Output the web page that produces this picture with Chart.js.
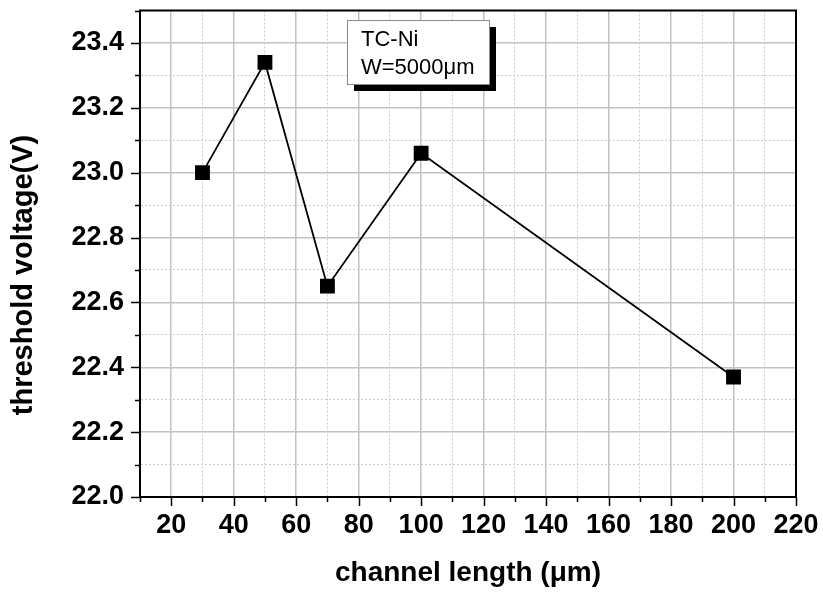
<!DOCTYPE html>
<html>
<head>
<meta charset="utf-8">
<script src="https://cdn.jsdelivr.net/npm/chart.js@4/dist/chart.umd.min.js"></script>
<style>
  html, body { margin: 0; padding: 0; background: #fff; }
  canvas { display: block; }
</style>
</head>
<body>
<canvas id="c" width="823" height="594"></canvas>
<script>
// Measured threshold voltage against channel length
const channelLength = [30, 50, 70, 100, 200];          // µm
const thresholdVoltage = [23.00, 23.34, 22.65, 23.06, 22.37]; // V

// Axis ranges and label steps
const xRange = [10, 220];
const xLabelStep = 20;
const yRange = [22.0, 23.5];
const yLabelStep = 0.2;

// Text
const xTitle = 'channel length (\u03bcm)';
const yTitle = 'threshold voltage(V)';
const noteLines = ['TC-Ni', 'W=5000\u03bcm'];

const FONT = '"Liberation Sans", Arial, Helvetica, sans-serif';

const isMajorX = v => Math.abs(v / xLabelStep - Math.round(v / xLabelStep)) < 1e-6;
const isMajorY = v => {
  const k = (v - yRange[0]) / yLabelStep;
  return Math.abs(k - Math.round(k)) < 1e-6;
};

const points = channelLength.map((x, i) => ({ x, y: thresholdVoltage[i] }));

// Frame, tick marks, note box and axis titles
const decor = {
  id: 'decor',
  afterDraw(chart) {
    const { ctx, chartArea: a, scales: { x, y } } = chart;
    ctx.save();
    ctx.strokeStyle = '#000';
    ctx.lineWidth = 1.5;
    x.ticks.forEach(t => {
      const px = Math.round(x.getPixelForValue(t.value)) + 0.5;
      const len = isMajorX(t.value) ? 9 : 5;
      ctx.beginPath();
      ctx.moveTo(px, a.bottom);
      ctx.lineTo(px, a.bottom + len);
      ctx.stroke();
    });
    y.ticks.forEach(t => {
      const py = Math.round(y.getPixelForValue(t.value)) + 0.5;
      const len = isMajorY(t.value) ? 9 : 5;
      ctx.beginPath();
      ctx.moveTo(a.left, py);
      ctx.lineTo(a.left - len, py);
      ctx.stroke();
    });

    // plot frame
    ctx.lineWidth = 2;
    ctx.strokeRect(a.left, a.top, a.right - a.left, a.bottom - a.top);

    // note box with drop shadow
    const bx = 347, by = 20, bw = 142, bh = 64, sh = 7;
    ctx.fillStyle = '#000';
    ctx.fillRect(bx + sh, by + sh, bw, bh);
    ctx.fillStyle = '#fff';
    ctx.fillRect(bx, by, bw, bh);
    ctx.strokeStyle = '#8a8a8a';
    ctx.lineWidth = 1;
    ctx.strokeRect(bx + 0.5, by + 0.5, bw, bh);
    ctx.fillStyle = '#000';
    ctx.font = '22px ' + FONT;
    ctx.textAlign = 'left';
    ctx.textBaseline = 'alphabetic';
    ctx.fillText(noteLines[0], 361, 46);
    ctx.fillText(noteLines[1], 361, 74);

    // axis titles
    ctx.font = 'bold 28px ' + FONT;
    ctx.textAlign = 'center';
    ctx.textBaseline = 'middle';
    ctx.fillText(xTitle, (a.left + a.right) / 2, 573);
    ctx.save();
    ctx.translate(24, 275);
    ctx.rotate(-Math.PI / 2);
    ctx.font = 'bold 29px ' + FONT;
    ctx.fillText(yTitle, 0, 0);
    ctx.restore();

    ctx.restore();
  }
};

new Chart(document.getElementById('c'), {
  type: 'scatter',
  data: {
    datasets: [{
      data: points,
      showLine: true,
      borderColor: '#000',
      borderWidth: 1.8,
      pointStyle: 'rect',
      pointRadius: 10.5,
      pointHoverRadius: 10.5,
      pointBackgroundColor: '#000',
      pointBorderColor: '#000',
      pointBorderWidth: 0,
      tension: 0
    }]
  },
  options: {
    responsive: false,
    animation: false,
    devicePixelRatio: 1,
    layout: { padding: { top: 9, right: 27, left: 0, bottom: 0 } },
    plugins: {
      legend: { display: false },
      tooltip: { enabled: false }
    },
    scales: {
      x: {
        type: 'linear',
        min: xRange[0],
        max: xRange[1],
        afterFit: s => { s.height = 97; s.paddingLeft = 0; s.paddingRight = 0; },
        ticks: {
          stepSize: 10,
          autoSkip: false,
          maxRotation: 0,
          padding: 3,
          color: '#000',
          font: { family: FONT, size: 27, weight: 'bold' },
          callback: v => isMajorX(v) ? String(Math.round(v)) : ''
        },
        grid: {
          color: c => c.tick && isMajorX(c.tick.value) ? '#c2c2c2' : '#cccccc',
          lineWidth: c => c.tick && isMajorX(c.tick.value) ? 1.5 : 1,
          tickLength: 9,
          tickColor: 'rgba(0,0,0,0)'
        },
        border: {
          display: true,
          color: '#000',
          width: 2,
          dash: c => (c.tick && !isMajorX(c.tick.value)) ? [2, 2] : []
        }
      },
      y: {
        type: 'linear',
        min: yRange[0],
        max: yRange[1],
        afterFit: s => { s.width = 140; s.paddingTop = 0; s.paddingBottom = 0; },
        ticks: {
          stepSize: 0.1,
          autoSkip: false,
          padding: 7,
          color: '#000',
          font: { family: FONT, size: 27, weight: 'bold' },
          callback: v => isMajorY(v) ? Number(v).toFixed(1) : ''
        },
        grid: {
          color: c => c.tick && isMajorY(c.tick.value) ? '#c2c2c2' : '#cccccc',
          lineWidth: c => c.tick && isMajorY(c.tick.value) ? 1.5 : 1,
          tickLength: 9,
          tickColor: 'rgba(0,0,0,0)'
        },
        border: {
          display: true,
          color: '#000',
          width: 2,
          dash: c => (c.tick && !isMajorY(c.tick.value)) ? [2, 2] : []
        }
      }
    }
  },
  plugins: [decor]
});
</script>
</body>
</html>
